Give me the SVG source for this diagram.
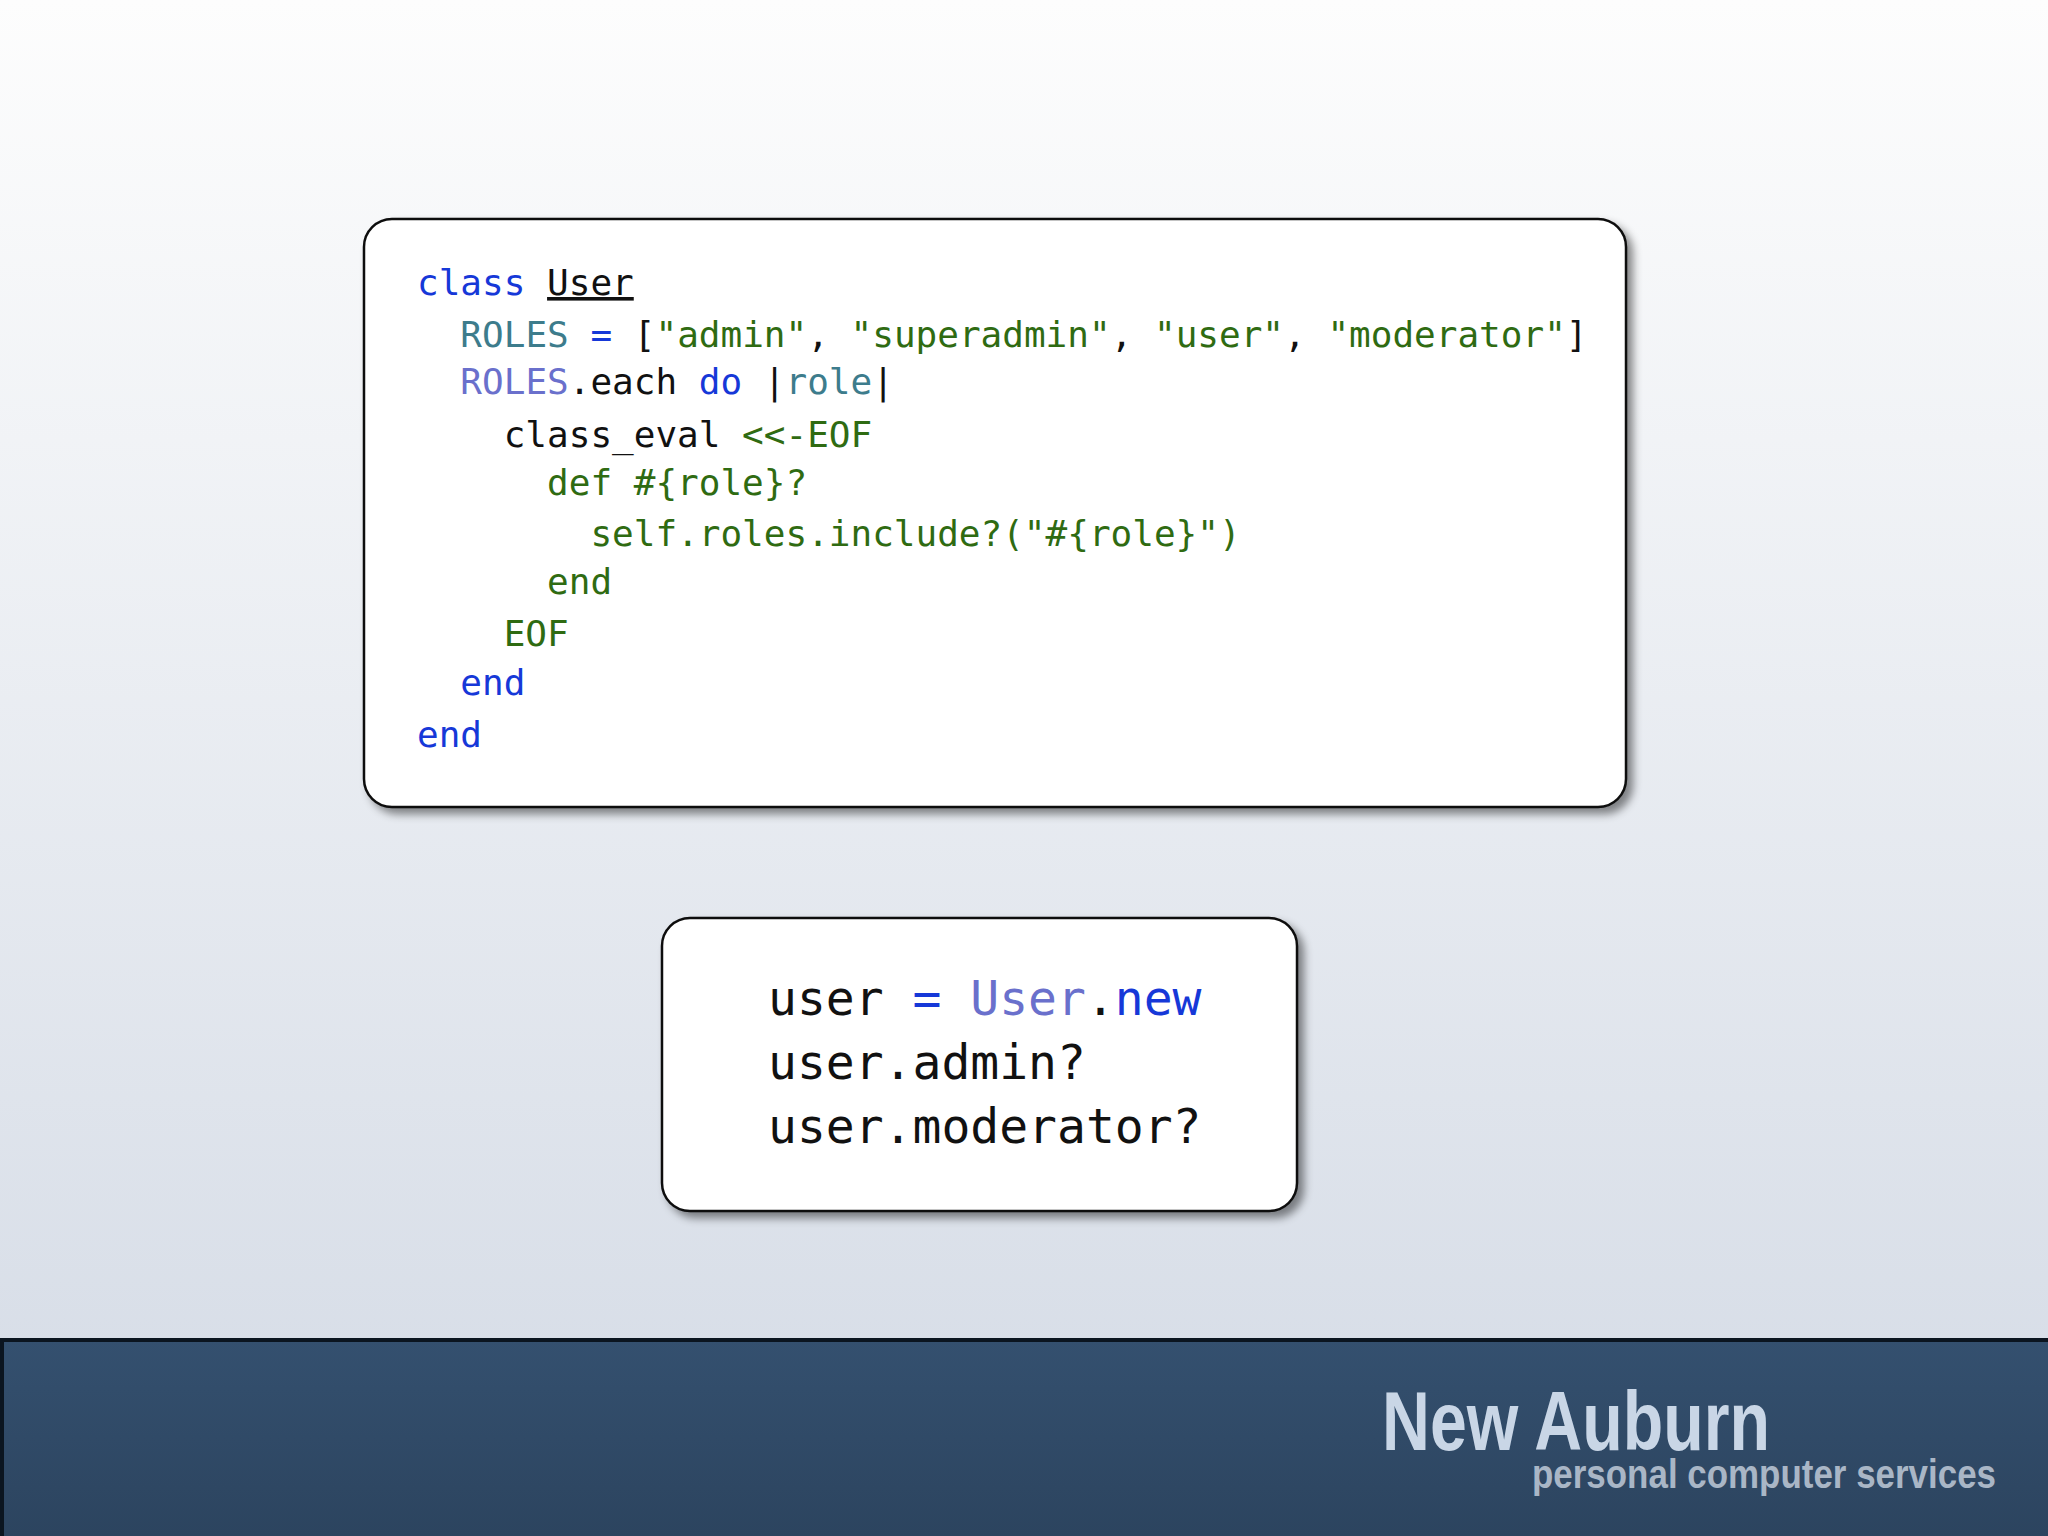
<svg xmlns="http://www.w3.org/2000/svg" width="2048" height="1536" viewBox="0 0 2048 1536">
<defs>
<linearGradient id="bg" x1="0" y1="0" x2="0" y2="1"><stop offset="0" stop-color="#fdfdfd"/><stop offset="1" stop-color="#d3dae5"/></linearGradient>
<linearGradient id="band" x1="0" y1="0" x2="0" y2="1"><stop offset="0" stop-color="#34506f"/><stop offset="1" stop-color="#2c445f"/></linearGradient>
<filter id="sh" x="-5%" y="-5%" width="115%" height="120%"><feDropShadow dx="6" dy="6" stdDeviation="4" flood-color="#000" flood-opacity="0.45"/></filter>
</defs>
<style>
.box{fill:#fff;stroke:#111;stroke-width:2.5}
.c{font-family:"DejaVu Sans Mono","Liberation Mono",monospace;font-size:36px;fill:#111;white-space:pre}
.c2{font-family:"DejaVu Sans Mono","Liberation Mono",monospace;font-size:48px;fill:#111;white-space:pre}
.k{fill:#1638d8}.s{fill:#2f6b12}.t{fill:#3d7c8c}.p{fill:#6a70cc}
</style>
<rect width="2048" height="1536" fill="url(#bg)"/>
<rect x="0" y="1340" width="2048" height="196" fill="url(#band)"/>
<rect x="0" y="1338" width="2048" height="4" fill="#0b1520"/>
<rect x="0" y="1340" width="4" height="196" fill="#0b1520"/>
<g id="code1">
<rect class="box" x="364" y="219" width="1262" height="588" rx="28" filter="url(#sh)"/>
<text class="c" x="417" y="295"><tspan class="k">class</tspan> <tspan text-decoration="underline">User</tspan></text>
<text class="c" x="417" y="347">  <tspan class="t">ROLES</tspan> <tspan class="k">=</tspan> [<tspan class="s">"admin"</tspan>, <tspan class="s">"superadmin"</tspan>, <tspan class="s">"user"</tspan>, <tspan class="s">"moderator"</tspan>]</text>
<text class="c" x="417" y="394">  <tspan class="p">ROLES</tspan>.each <tspan class="k">do</tspan> |<tspan class="t">role</tspan>|</text>
<text class="c" x="417" y="447">    class_eval <tspan class="s">&lt;&lt;-EOF</tspan></text>
<text class="c s" x="417" y="495">      def #{role}?</text>
<text class="c s" x="417" y="546">        self.roles.include?("#{role}")</text>
<text class="c s" x="417" y="594">      end</text>
<text class="c s" x="417" y="646">    EOF</text>
<text class="c k" x="417" y="695">  end</text>
<text class="c k" x="417" y="747">end</text>
</g>
<g id="code2">
<rect class="box" x="662" y="918" width="635" height="293" rx="28" filter="url(#sh)"/>
<text class="c2" x="768" y="1015">user <tspan class="k">=</tspan> <tspan class="p">User</tspan>.<tspan class="k">new</tspan></text>
<text class="c2" x="768" y="1079">user.admin?</text>
<text class="c2" x="768" y="1143">user.moderator?</text>
</g>
<g id="logo">
<text x="1382" y="1450" font-family="'Liberation Sans Narrow','Liberation Sans',sans-serif" font-weight="bold" font-size="84" fill="#c9d6e6" textLength="388" lengthAdjust="spacingAndGlyphs">New Auburn</text>
<text x="1532" y="1488" font-family="'Liberation Sans Narrow','Liberation Sans',sans-serif" font-weight="bold" font-size="40" fill="#a9b6c6" textLength="464" lengthAdjust="spacingAndGlyphs">personal computer services</text>
</g>
</svg>
